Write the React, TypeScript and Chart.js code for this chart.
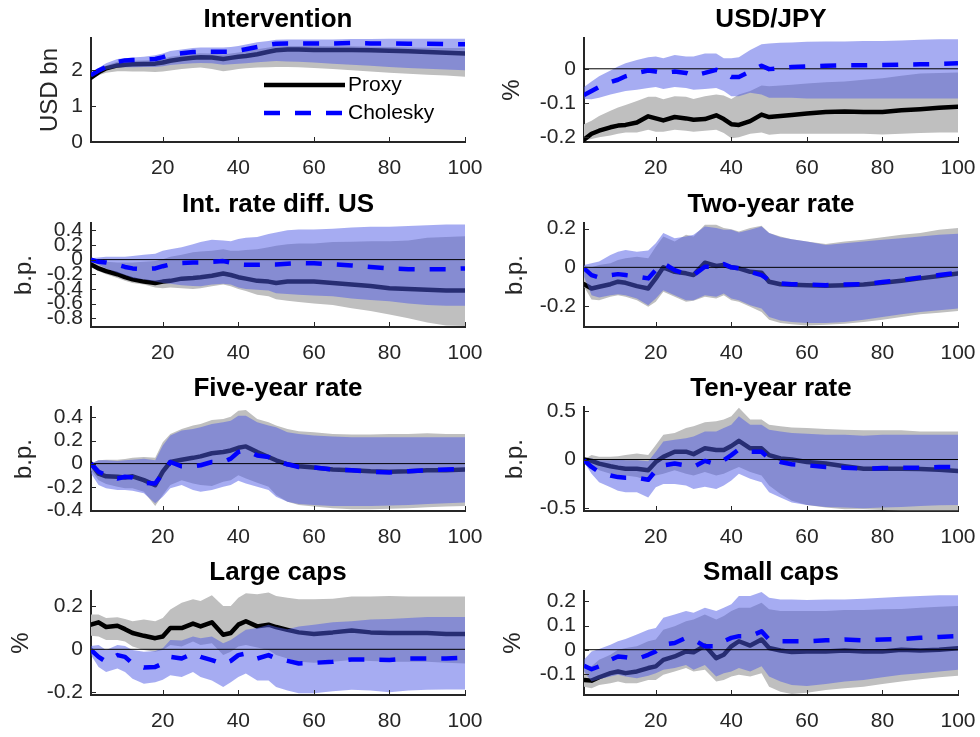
import React, { useEffect, useRef } from 'react';
import { Chart, registerables } from 'chart.js';

Chart.register(...registerables);

const HORIZON = [1, 3, 5, 8, 10, 12, 15, 18, 20, 22, 25, 28, 30, 33, 36, 38, 40, 42, 45, 48, 50, 53, 56, 60, 65, 70, 75, 80, 85, 90, 95, 100];
const X_TICKS = [20, 40, 60, 80, 100];
const ZERO_X = [1, 100];
const ZERO_Y = [0, 0];

// Intervention (USD bn)
const INT_PROXY = [1.78, 1.93, 2.04, 2.12, 2.14, 2.15, 2.16, 2.17, 2.2, 2.25, 2.3, 2.33, 2.35, 2.34, 2.3, 2.33, 2.36, 2.38, 2.43, 2.5, 2.54, 2.56, 2.56, 2.55, 2.55, 2.55, 2.54, 2.53, 2.51, 2.49, 2.47, 2.45];
const INT_PROXY_LO = [1.75, 1.85, 1.92, 1.96, 1.96, 1.95, 1.95, 1.94, 1.95, 1.98, 2.02, 2.05, 2.06, 2.02, 1.96, 1.99, 2.02, 2.04, 2.06, 2.07, 2.08, 2.08, 2.07, 2.05, 2.02, 1.99, 1.95, 1.92, 1.89, 1.86, 1.84, 1.81];
const INT_PROXY_HI = [1.82, 2.0, 2.12, 2.22, 2.24, 2.25, 2.26, 2.27, 2.3, 2.36, 2.4, 2.44, 2.46, 2.45, 2.42, 2.45, 2.48, 2.51, 2.57, 2.62, 2.65, 2.66, 2.66, 2.66, 2.65, 2.65, 2.64, 2.63, 2.62, 2.61, 2.6, 2.6];
const INT_CHOL = [1.85, 1.98, 2.08, 2.22, 2.26, 2.27, 2.28, 2.3, 2.35, 2.42, 2.46, 2.49, 2.5, 2.5, 2.5, 2.5, 2.53, 2.57, 2.63, 2.69, 2.72, 2.73, 2.73, 2.73, 2.73, 2.74, 2.73, 2.73, 2.72, 2.72, 2.71, 2.71];
const INT_CHOL_LO = [1.8, 1.92, 2.0, 2.06, 2.07, 2.07, 2.08, 2.08, 2.1, 2.13, 2.16, 2.18, 2.19, 2.18, 2.14, 2.15, 2.17, 2.18, 2.21, 2.23, 2.24, 2.23, 2.22, 2.2, 2.17, 2.14, 2.11, 2.08, 2.05, 2.03, 2.01, 1.99];
const INT_CHOL_HI = [1.88, 2.05, 2.18, 2.3, 2.32, 2.34, 2.36, 2.4, 2.45, 2.52, 2.56, 2.6, 2.62, 2.62, 2.62, 2.63, 2.66, 2.7, 2.76, 2.8, 2.83, 2.84, 2.84, 2.84, 2.84, 2.85, 2.85, 2.86, 2.86, 2.86, 2.86, 2.86];

// USD/JPY (%)
const FX_PROXY = [-0.207, -0.19, -0.181, -0.171, -0.166, -0.164, -0.157, -0.139, -0.145, -0.151, -0.141, -0.145, -0.149, -0.147, -0.136, -0.147, -0.162, -0.164, -0.153, -0.134, -0.141, -0.138, -0.135, -0.131, -0.126, -0.125, -0.126, -0.126, -0.121, -0.118, -0.114, -0.111];
const FX_PROXY_LO = [-0.21, -0.205, -0.2, -0.195, -0.19, -0.186, -0.186, -0.178, -0.184, -0.184, -0.178, -0.181, -0.184, -0.181, -0.178, -0.188, -0.203, -0.2, -0.19, -0.186, -0.193, -0.19, -0.19, -0.19, -0.19, -0.19, -0.19, -0.192, -0.19, -0.188, -0.186, -0.186];
const FX_PROXY_HI = [-0.162, -0.152, -0.138, -0.123, -0.113, -0.106, -0.094, -0.082, -0.082, -0.089, -0.08, -0.082, -0.088, -0.08, -0.075, -0.078, -0.088, -0.075, -0.065, -0.049, -0.051, -0.049, -0.047, -0.043, -0.039, -0.037, -0.032, -0.028, -0.02, -0.014, -0.012, -0.011];
const FX_CHOL = [-0.077, -0.065, -0.053, -0.039, -0.032, -0.022, -0.012, -0.005, -0.008, -0.012, -0.008, -0.012, -0.02, -0.012, -0.003, -0.01, -0.024, -0.024, -0.008, 0.009, -0.001, 0.002, 0.005, 0.007, 0.009, 0.01, 0.01, 0.011, 0.012, 0.013, 0.014, 0.016];
const FX_CHOL_LO = [-0.088, -0.089, -0.085, -0.075, -0.07, -0.065, -0.061, -0.056, -0.053, -0.059, -0.053, -0.056, -0.061, -0.059, -0.056, -0.065, -0.08, -0.08, -0.07, -0.075, -0.085, -0.085, -0.085, -0.087, -0.087, -0.087, -0.087, -0.087, -0.087, -0.087, -0.087, -0.087];
const FX_CHOL_HI = [-0.053, -0.037, -0.022, -0.005, 0.007, 0.016, 0.026, 0.034, 0.036, 0.031, 0.04, 0.036, 0.036, 0.045, 0.045, 0.031, 0.031, 0.034, 0.055, 0.072, 0.074, 0.076, 0.077, 0.079, 0.08, 0.08, 0.081, 0.081, 0.083, 0.085, 0.086, 0.086];

// Int. rate diff. US (b.p.)
const IRD_PROXY = [-0.065, -0.12, -0.157, -0.2, -0.24, -0.27, -0.3, -0.32, -0.3, -0.29, -0.26, -0.25, -0.24, -0.22, -0.19, -0.21, -0.24, -0.26, -0.29, -0.3, -0.32, -0.3, -0.3, -0.3, -0.32, -0.34, -0.36, -0.39, -0.4, -0.41, -0.42, -0.42];
const IRD_PROXY_LO = [-0.09, -0.16, -0.2, -0.25, -0.29, -0.32, -0.34, -0.38, -0.39, -0.38, -0.39, -0.4, -0.39, -0.365, -0.34, -0.365, -0.4, -0.43, -0.48, -0.5, -0.54, -0.56, -0.58, -0.6, -0.62, -0.665, -0.7, -0.75, -0.8, -0.86, -0.9, -0.905];
const IRD_PROXY_HI = [-0.01, -0.02, -0.03, -0.04, -0.04, -0.04, -0.03, -0.02, 0.005, 0.04, 0.065, 0.1, 0.11, 0.12, 0.14, 0.12, 0.12, 0.13, 0.14, 0.17, 0.19, 0.21, 0.22, 0.22, 0.24, 0.245, 0.25, 0.25, 0.26, 0.3, 0.31, 0.32];
const IRD_CHOL = [0, -0.03, -0.04, -0.07, -0.1, -0.12, -0.13, -0.12, -0.09, -0.065, -0.046, -0.04, -0.04, -0.03, -0.02, -0.04, -0.065, -0.07, -0.07, -0.065, -0.065, -0.055, -0.046, -0.05, -0.065, -0.08, -0.1, -0.12, -0.13, -0.13, -0.13, -0.12];
const IRD_CHOL_LO = [-0.02, -0.07, -0.12, -0.18, -0.21, -0.25, -0.27, -0.3, -0.32, -0.33, -0.35, -0.36, -0.365, -0.34, -0.33, -0.34, -0.38, -0.4, -0.41, -0.42, -0.46, -0.47, -0.48, -0.49, -0.5, -0.53, -0.55, -0.57, -0.6, -0.62, -0.63, -0.63];
const IRD_CHOL_HI = [0.02, 0.03, 0.04, 0.04, 0.04, 0.05, 0.065, 0.08, 0.12, 0.14, 0.17, 0.21, 0.24, 0.27, 0.26, 0.25, 0.28, 0.3, 0.31, 0.35, 0.37, 0.4, 0.41, 0.41, 0.42, 0.44, 0.45, 0.45, 0.46, 0.47, 0.48, 0.48];

// Two-year rate (b.p.)
const Y2_PROXY = [-0.087, -0.109, -0.1, -0.087, -0.074, -0.08, -0.097, -0.109, -0.057, 0, -0.023, -0.031, -0.04, 0.024, 0.007, 0.012, 0, -0.005, -0.023, -0.028, -0.074, -0.087, -0.09, -0.092, -0.095, -0.092, -0.088, -0.08, -0.069, -0.057, -0.045, -0.031];
const Y2_PROXY_LO = [-0.1, -0.166, -0.17, -0.152, -0.144, -0.152, -0.17, -0.204, -0.178, -0.126, -0.152, -0.178, -0.173, -0.152, -0.161, -0.144, -0.17, -0.178, -0.204, -0.23, -0.27, -0.287, -0.294, -0.3, -0.297, -0.291, -0.282, -0.27, -0.256, -0.242, -0.235, -0.225];
const Y2_PROXY_HI = [0.007, 0, 0.012, 0.021, 0.038, 0.047, 0.055, 0.047, 0.107, 0.159, 0.133, 0.168, 0.159, 0.22, 0.22, 0.203, 0.197, 0.185, 0.203, 0.215, 0.177, 0.159, 0.145, 0.133, 0.121, 0.133, 0.142, 0.156, 0.168, 0.177, 0.194, 0.203];
const Y2_CHOL = [-0.005, -0.04, -0.052, -0.04, -0.035, -0.04, -0.048, -0.057, -0.014, 0.021, -0.014, -0.035, -0.04, 0.003, 0.003, 0.017, 0, -0.005, -0.023, -0.04, -0.066, -0.083, -0.087, -0.088, -0.092, -0.088, -0.087, -0.076, -0.066, -0.052, -0.04, -0.028];
const Y2_CHOL_LO = [-0.048, -0.144, -0.156, -0.144, -0.139, -0.144, -0.161, -0.196, -0.161, -0.118, -0.144, -0.17, -0.17, -0.144, -0.152, -0.135, -0.161, -0.17, -0.196, -0.213, -0.256, -0.274, -0.282, -0.287, -0.287, -0.282, -0.27, -0.256, -0.242, -0.23, -0.222, -0.213];
const Y2_CHOL_HI = [0.012, 0.021, 0.03, 0.064, 0.081, 0.09, 0.081, 0.087, 0.125, 0.177, 0.15, 0.159, 0.168, 0.211, 0.203, 0.194, 0.194, 0.18, 0.194, 0.211, 0.177, 0.156, 0.145, 0.133, 0.116, 0.125, 0.133, 0.142, 0.15, 0.159, 0.168, 0.173];

// Five-year rate (b.p.)
const Y5_PROXY = [0, -0.086, -0.11, -0.114, -0.12, -0.11, -0.143, -0.186, -0.07, 0.014, 0.034, 0.05, 0.063, 0.09, 0.1, 0.114, 0.137, 0.149, 0.1, 0.057, 0.029, -0.006, -0.023, -0.034, -0.051, -0.057, -0.066, -0.071, -0.066, -0.057, -0.057, -0.051];
const Y5_PROXY_LO = [-0.057, -0.143, -0.177, -0.2, -0.214, -0.214, -0.243, -0.366, -0.271, -0.186, -0.143, -0.171, -0.186, -0.194, -0.157, -0.143, -0.1, -0.129, -0.166, -0.2, -0.271, -0.329, -0.357, -0.371, -0.386, -0.394, -0.394, -0.391, -0.386, -0.377, -0.371, -0.366];
const Y5_PROXY_HI = [0, 0.029, 0.034, 0.034, 0.04, 0.051, 0.057, 0.051, 0.186, 0.257, 0.3, 0.329, 0.343, 0.377, 0.386, 0.406, 0.457, 0.463, 0.386, 0.357, 0.329, 0.3, 0.28, 0.271, 0.257, 0.251, 0.251, 0.257, 0.257, 0.263, 0.257, 0.257];
const Y5_CHOL = [0, -0.07, -0.1, -0.129, -0.114, -0.12, -0.166, -0.171, -0.086, 0.014, -0.023, -0.023, -0.014, 0.014, 0.014, 0.043, 0.1, 0.114, 0.071, 0.057, 0.029, -0.006, -0.029, -0.034, -0.051, -0.057, -0.071, -0.077, -0.066, -0.057, -0.051, -0.043];
const Y5_CHOL_LO = [-0.086, -0.186, -0.214, -0.229, -0.229, -0.234, -0.257, -0.343, -0.286, -0.214, -0.186, -0.229, -0.243, -0.229, -0.2, -0.186, -0.149, -0.171, -0.2, -0.229, -0.286, -0.329, -0.349, -0.357, -0.366, -0.366, -0.366, -0.363, -0.357, -0.349, -0.343, -0.337];
const Y5_CHOL_HI = [0, 0.029, 0.029, 0.023, 0.029, 0.034, 0.043, 0.029, 0.157, 0.243, 0.286, 0.3, 0.314, 0.343, 0.357, 0.371, 0.414, 0.414, 0.357, 0.329, 0.314, 0.271, 0.257, 0.243, 0.234, 0.229, 0.229, 0.229, 0.229, 0.229, 0.229, 0.229];

// Ten-year rate (b.p.)
const Y10_PROXY = [0, -0.014, -0.042, -0.07, -0.084, -0.095, -0.095, -0.112, -0.025, 0.028, 0.081, 0.081, 0.056, 0.116, 0.098, 0.098, 0.14, 0.193, 0.116, 0.116, 0.046, 0.011, 0, -0.025, -0.042, -0.07, -0.095, -0.095, -0.095, -0.098, -0.105, -0.119];
const Y10_PROXY_LO = [0, -0.06, -0.112, -0.147, -0.165, -0.165, -0.182, -0.218, -0.165, -0.147, -0.112, -0.147, -0.165, -0.13, -0.165, -0.147, -0.112, -0.077, -0.13, -0.165, -0.27, -0.358, -0.428, -0.47, -0.498, -0.516, -0.516, -0.523, -0.526, -0.526, -0.526, -0.526];
const Y10_PROXY_HI = [0, 0.046, 0.028, 0.028, 0.035, 0.046, 0.063, 0.046, 0.151, 0.256, 0.274, 0.326, 0.344, 0.386, 0.396, 0.414, 0.449, 0.537, 0.414, 0.414, 0.361, 0.344, 0.333, 0.326, 0.316, 0.309, 0.302, 0.302, 0.302, 0.291, 0.291, 0.291];
const Y10_CHOL = [-0.007, -0.077, -0.13, -0.165, -0.182, -0.189, -0.189, -0.21, -0.112, -0.06, -0.042, -0.06, -0.077, -0.014, -0.049, -0.007, 0.046, 0.105, 0.081, 0.081, 0.011, -0.025, -0.049, -0.06, -0.077, -0.084, -0.095, -0.088, -0.084, -0.084, -0.077, -0.077];
const Y10_CHOL_LO = [-0.025, -0.147, -0.235, -0.288, -0.323, -0.34, -0.34, -0.393, -0.288, -0.253, -0.253, -0.27, -0.305, -0.281, -0.305, -0.27, -0.218, -0.147, -0.2, -0.235, -0.34, -0.393, -0.446, -0.47, -0.491, -0.498, -0.505, -0.498, -0.491, -0.481, -0.474, -0.47];
const Y10_CHOL_HI = [0, 0.011, -0.007, -0.007, 0, -0.007, -0.007, -0.018, 0.081, 0.186, 0.204, 0.221, 0.239, 0.291, 0.291, 0.326, 0.361, 0.449, 0.361, 0.361, 0.309, 0.291, 0.274, 0.267, 0.256, 0.256, 0.246, 0.256, 0.256, 0.256, 0.256, 0.256];

// Large caps (%)
const LC_PROXY = [0.115, 0.126, 0.104, 0.11, 0.094, 0.076, 0.063, 0.052, 0.06, 0.099, 0.099, 0.12, 0.107, 0.126, 0.068, 0.076, 0.115, 0.131, 0.107, 0.115, 0.104, 0.091, 0.079, 0.072, 0.079, 0.088, 0.079, 0.076, 0.076, 0.076, 0.072, 0.071];
const LC_PROXY_LO = [0.063, 0.06, 0.044, 0.044, 0.036, 0.013, -0.003, -0.011, -0.003, 0.02, 0.013, 0.036, 0.02, 0.028, -0.027, -0.011, 0.013, 0.02, 0.009, -0.003, -0.027, -0.043, -0.058, -0.063, -0.058, -0.05, -0.054, -0.058, -0.058, -0.058, -0.063, -0.066];
const LC_PROXY_HI = [0.162, 0.162, 0.146, 0.15, 0.142, 0.131, 0.139, 0.131, 0.146, 0.186, 0.217, 0.233, 0.225, 0.252, 0.202, 0.202, 0.241, 0.261, 0.257, 0.265, 0.249, 0.241, 0.233, 0.233, 0.236, 0.246, 0.246, 0.249, 0.246, 0.246, 0.246, 0.246];
const LC_CHOL = [-0.003, -0.035, -0.058, -0.027, -0.035, -0.066, -0.085, -0.082, -0.066, -0.035, -0.043, -0.019, -0.035, -0.05, -0.069, -0.054, -0.027, -0.019, -0.043, -0.027, -0.043, -0.054, -0.066, -0.063, -0.058, -0.047, -0.047, -0.05, -0.043, -0.043, -0.043, -0.039];
const LC_CHOL_LO = [-0.027, -0.082, -0.106, -0.09, -0.106, -0.137, -0.161, -0.153, -0.142, -0.121, -0.129, -0.106, -0.129, -0.145, -0.176, -0.153, -0.129, -0.113, -0.145, -0.145, -0.176, -0.192, -0.205, -0.205, -0.195, -0.189, -0.192, -0.2, -0.192, -0.189, -0.187, -0.187];
const LC_CHOL_HI = [0.016, 0.02, -0.003, 0.02, 0.016, -0.003, -0.011, -0.008, 0.005, 0.044, 0.041, 0.06, 0.052, 0.06, 0.028, 0.044, 0.068, 0.091, 0.099, 0.115, 0.104, 0.094, 0.107, 0.115, 0.126, 0.131, 0.139, 0.142, 0.146, 0.151, 0.151, 0.151];

// Small caps (%)
const SC_PROXY = [-0.125, -0.128, -0.114, -0.097, -0.09, -0.097, -0.09, -0.076, -0.069, -0.042, -0.028, -0.007, -0.011, 0.017, -0.035, -0.021, 0.014, 0.035, 0.017, 0.042, 0.007, -0.003, -0.01, -0.007, -0.007, -0.003, -0.007, -0.007, 0, -0.003, 0, 0.006];
const SC_PROXY_LO = [-0.153, -0.16, -0.146, -0.139, -0.132, -0.139, -0.139, -0.125, -0.125, -0.104, -0.09, -0.076, -0.09, -0.083, -0.132, -0.125, -0.111, -0.104, -0.111, -0.097, -0.153, -0.174, -0.183, -0.178, -0.167, -0.16, -0.153, -0.142, -0.132, -0.122, -0.114, -0.108];
const SC_PROXY_HI = [-0.076, -0.069, -0.042, -0.021, 0, 0.007, 0.014, 0.035, 0.042, 0.083, 0.097, 0.118, 0.125, 0.146, 0.125, 0.139, 0.16, 0.174, 0.174, 0.194, 0.167, 0.16, 0.16, 0.16, 0.16, 0.164, 0.164, 0.167, 0.169, 0.174, 0.178, 0.181];
const SC_CHOL = [-0.067, -0.081, -0.069, -0.042, -0.028, -0.031, -0.039, -0.021, -0.007, 0.021, 0.028, 0.049, 0.042, 0.014, 0.014, 0.035, 0.049, 0.056, 0.056, 0.076, 0.042, 0.035, 0.035, 0.035, 0.039, 0.042, 0.039, 0.042, 0.044, 0.049, 0.053, 0.056];
const SC_CHOL_LO = [-0.09, -0.132, -0.122, -0.111, -0.104, -0.111, -0.118, -0.108, -0.097, -0.083, -0.076, -0.063, -0.083, -0.063, -0.111, -0.097, -0.09, -0.076, -0.09, -0.069, -0.111, -0.132, -0.146, -0.15, -0.142, -0.132, -0.125, -0.114, -0.104, -0.097, -0.09, -0.083];
const SC_CHOL_HI = [-0.042, -0.007, 0.003, 0.021, 0.035, 0.044, 0.063, 0.083, 0.09, 0.132, 0.146, 0.16, 0.153, 0.174, 0.16, 0.174, 0.188, 0.222, 0.222, 0.239, 0.215, 0.208, 0.208, 0.206, 0.208, 0.208, 0.211, 0.215, 0.219, 0.222, 0.225, 0.225];

const FONT = '"Liberation Sans", Arial, Helvetica, sans-serif';
const TEXT_COLOR = '#262626';
const GRAY_FILL = 'rgb(191,191,191)';
const BLUE_FILL = 'rgba(77,89,230,0.5)';
const LINE_W = 4.5;
const DASH = [16, 15];

// layout (pixels)
const AXIS_LEFT = [91, 584];
const AXIS_TOP = [38, 223, 407, 591];
const AXIS_W = 374;
const AXIS_H = 104;
const Y_AXIS_W = 91;
const PAD_TOP = 38;
const PAD_RIGHT = 34;
const X_AXIS_H = 44;

type Panel = {
  title: string;
  ylabel: string;
  proxy: number[];
  proxyLo: number[];
  proxyHi: number[];
  chol: number[];
  cholLo: number[];
  cholHi: number[];
  yMin: number;
  yMax: number;
  yTicks: number[];
  col: number;
  row: number;
  labelOffset: number;
  zero: boolean;
  legend?: boolean;
};

const PANELS: Panel[] = [
  { title: 'Intervention', ylabel: 'USD bn', proxy: INT_PROXY, proxyLo: INT_PROXY_LO, proxyHi: INT_PROXY_HI, chol: INT_CHOL, cholLo: INT_CHOL_LO, cholHi: INT_CHOL_HI, yMin: 0, yMax: 2.88, yTicks: [0, 1, 2], col: 0, row: 0, labelOffset: 41, zero: false, legend: true },
  { title: 'USD/JPY', ylabel: '%', proxy: FX_PROXY, proxyLo: FX_PROXY_LO, proxyHi: FX_PROXY_HI, chol: FX_CHOL, cholLo: FX_CHOL_LO, cholHi: FX_CHOL_HI, yMin: -0.214, yMax: 0.09, yTicks: [-0.2, -0.1, 0], col: 1, row: 0, labelOffset: 72, zero: true },
  { title: 'Int. rate diff. US', ylabel: 'b.p.', proxy: IRD_PROXY, proxyLo: IRD_PROXY_LO, proxyHi: IRD_PROXY_HI, chol: IRD_CHOL, cholLo: IRD_CHOL_LO, cholHi: IRD_CHOL_HI, yMin: -0.92, yMax: 0.5, yTicks: [-0.8, -0.6, -0.4, -0.2, 0, 0.2, 0.4], col: 0, row: 1, labelOffset: 67, zero: true },
  { title: 'Two-year rate', ylabel: 'b.p.', proxy: Y2_PROXY, proxyLo: Y2_PROXY_LO, proxyHi: Y2_PROXY_HI, chol: Y2_CHOL, cholLo: Y2_CHOL_LO, cholHi: Y2_CHOL_HI, yMin: -0.308, yMax: 0.229, yTicks: [-0.2, 0, 0.2], col: 1, row: 1, labelOffset: 69, zero: true },
  { title: 'Five-year rate', ylabel: 'b.p.', proxy: Y5_PROXY, proxyLo: Y5_PROXY_LO, proxyHi: Y5_PROXY_HI, chol: Y5_CHOL, cholLo: Y5_CHOL_LO, cholHi: Y5_CHOL_HI, yMin: -0.41, yMax: 0.49, yTicks: [-0.4, -0.2, 0, 0.2, 0.4], col: 0, row: 2, labelOffset: 67, zero: true },
  { title: 'Ten-year rate', ylabel: 'b.p.', proxy: Y10_PROXY, proxyLo: Y10_PROXY_LO, proxyHi: Y10_PROXY_HI, chol: Y10_CHOL, cholLo: Y10_CHOL_LO, cholHi: Y10_CHOL_HI, yMin: -0.533, yMax: 0.544, yTicks: [-0.5, 0, 0.5], col: 1, row: 2, labelOffset: 69, zero: true },
  { title: 'Large caps', ylabel: '%', proxy: LC_PROXY, proxyLo: LC_PROXY_LO, proxyHi: LC_PROXY_HI, chol: LC_CHOL, cholLo: LC_CHOL_LO, cholHi: LC_CHOL_HI, yMin: -0.213, yMax: 0.272, yTicks: [-0.2, 0, 0.2], col: 0, row: 3, labelOffset: 70, zero: true },
  { title: 'Small caps', ylabel: '%', proxy: SC_PROXY, proxyLo: SC_PROXY_LO, proxyHi: SC_PROXY_HI, chol: SC_CHOL, cholLo: SC_CHOL_LO, cholHi: SC_CHOL_HI, yMin: -0.1875, yMax: 0.243, yTicks: [-0.1, 0, 0.1, 0.2], col: 1, row: 3, labelOffset: 71, zero: true },
];

const pts = (arr: number[]) => HORIZON.map((x, i) => ({ x, y: arr[i] }));

function PanelChart({ p }: { p: Panel }) {
  const ref = useRef<HTMLCanvasElement>(null);
  const width = Y_AXIS_W + AXIS_W + PAD_RIGHT;
  const height = PAD_TOP + AXIS_H + X_AXIS_H;

  useEffect(() => {
    if (!ref.current) return;
    const decor = {
      id: 'matlabDecor',
      afterDraw(chart: any) {
        const { ctx, chartArea: a, scales } = chart;
        const xs = scales.x;
        const ys = scales.y;
        ctx.save();
        // inward tick marks
        ctx.strokeStyle = TEXT_COLOR;
        ctx.lineWidth = 1;
        ctx.beginPath();
        for (const v of X_TICKS) {
          const px = Math.round(xs.getPixelForValue(v)) + 0.5;
          ctx.moveTo(px, a.bottom);
          ctx.lineTo(px, a.bottom - 5);
        }
        for (const v of p.yTicks) {
          const py = Math.round(ys.getPixelForValue(v)) + 0.5;
          ctx.moveTo(a.left, py);
          ctx.lineTo(a.left + 5, py);
        }
        ctx.stroke();
        // title
        ctx.fillStyle = '#000';
        ctx.font = `bold 26px ${FONT}`;
        ctx.textAlign = 'center';
        ctx.textBaseline = 'alphabetic';
        ctx.fillText(p.title, (a.left + a.right) / 2, a.top - 11);
        // y label
        ctx.save();
        ctx.translate(a.left - p.labelOffset, (a.top + a.bottom) / 2);
        ctx.rotate(-Math.PI / 2);
        ctx.font = `24px ${FONT}`;
        ctx.fillStyle = TEXT_COLOR;
        ctx.textAlign = 'center';
        ctx.textBaseline = 'middle';
        ctx.fillText(p.ylabel, 0, 0);
        ctx.restore();
        // legend
        if (p.legend) {
          const x0 = a.left + 173;
          const x1 = a.left + 254;
          const yP = a.top + 47;
          const yC = a.top + 75;
          ctx.lineWidth = LINE_W;
          ctx.strokeStyle = '#000';
          ctx.setLineDash([]);
          ctx.beginPath();
          ctx.moveTo(x0, yP);
          ctx.lineTo(x1, yP);
          ctx.stroke();
          ctx.strokeStyle = '#0000ff';
          ctx.setLineDash(DASH);
          ctx.beginPath();
          ctx.moveTo(x0, yC);
          ctx.lineTo(x1, yC);
          ctx.stroke();
          ctx.setLineDash([]);
          ctx.fillStyle = '#000';
          ctx.font = `21px ${FONT}`;
          ctx.textAlign = 'left';
          ctx.textBaseline = 'middle';
          ctx.fillText('Proxy', x1 + 3, yP);
          ctx.fillText('Cholesky', x1 + 3, yC);
        }
        ctx.restore();
      },
    };

    const band = (data: number[], color: string | null) => ({
      data: pts(data),
      borderWidth: 0,
      borderColor: 'transparent',
      backgroundColor: color || 'transparent',
      pointRadius: 0,
      fill: color ? '+1' : false,
    });

    const datasets: any[] = [
      { label: 'Cholesky', data: pts(p.chol), borderColor: '#0000ff', borderWidth: LINE_W, borderDash: DASH, pointRadius: 0, fill: false, borderJoinStyle: 'round' },
    ];
    if (p.zero) {
      datasets.push({ label: 'zero', data: ZERO_X.map((x, i) => ({ x, y: ZERO_Y[i] })), borderColor: '#000', borderWidth: 1, pointRadius: 0, fill: false });
    }
    datasets.push(
      { label: 'cholHi', ...band(p.cholHi, BLUE_FILL) },
      { label: 'cholLo', ...band(p.cholLo, null) },
      { label: 'Proxy', data: pts(p.proxy), borderColor: '#000', borderWidth: LINE_W, pointRadius: 0, fill: false, borderJoinStyle: 'round', borderCapStyle: 'round' },
      { label: 'proxyHi', ...band(p.proxyHi, GRAY_FILL) },
      { label: 'proxyLo', ...band(p.proxyLo, null) },
    );

    const chart = new Chart(ref.current, {
      type: 'line',
      data: { datasets },
      options: {
        animation: false,
        responsive: false,
        events: [],
        layout: { padding: { top: PAD_TOP, right: PAD_RIGHT, bottom: 0, left: 0 } },
        plugins: { legend: { display: false }, tooltip: { enabled: false }, title: { display: false } },
        elements: { line: { tension: 0 } },
        scales: {
          x: {
            type: 'linear',
            min: 1,
            max: 100,
            afterBuildTicks: (s: any) => { s.ticks = X_TICKS.map((v) => ({ value: v })); },
            afterFit: (s: any) => { s.height = X_AXIS_H; },
            grid: { display: true, color: 'transparent', drawTicks: false },
            border: { display: true, color: TEXT_COLOR, width: 2 },
            ticks: { autoSkip: false, maxRotation: 0, padding: 14, color: TEXT_COLOR, font: { family: FONT, size: 21 }, callback: (v: any) => String(v) },
          },
          y: {
            type: 'linear',
            min: p.yMin,
            max: p.yMax,
            afterBuildTicks: (s: any) => { s.ticks = p.yTicks.map((v) => ({ value: v })); },
            afterFit: (s: any) => { s.width = Y_AXIS_W; },
            grid: { display: true, color: 'transparent', drawTicks: false },
            border: { display: true, color: TEXT_COLOR, width: 2 },
            ticks: { autoSkip: false, padding: 8, color: TEXT_COLOR, font: { family: FONT, size: 21 }, callback: (v: any) => String(v) },
          },
        },
      },
      plugins: [decor],
    } as any);
    return () => chart.destroy();
  }, [p]);

  return (
    <canvas
      ref={ref}
      width={width}
      height={height}
      style={{
        position: 'absolute',
        left: AXIS_LEFT[p.col] - Y_AXIS_W,
        top: AXIS_TOP[p.row] - PAD_TOP,
        width,
        height,
      }}
    />
  );
}

export default function App() {
  return (
    <div style={{ position: 'absolute', left: 0, top: 0, width: 980, height: 737, background: '#fff', overflow: 'hidden' }}>
      {PANELS.map((p) => (
        <PanelChart key={p.title} p={p} />
      ))}
    </div>
  );
}
